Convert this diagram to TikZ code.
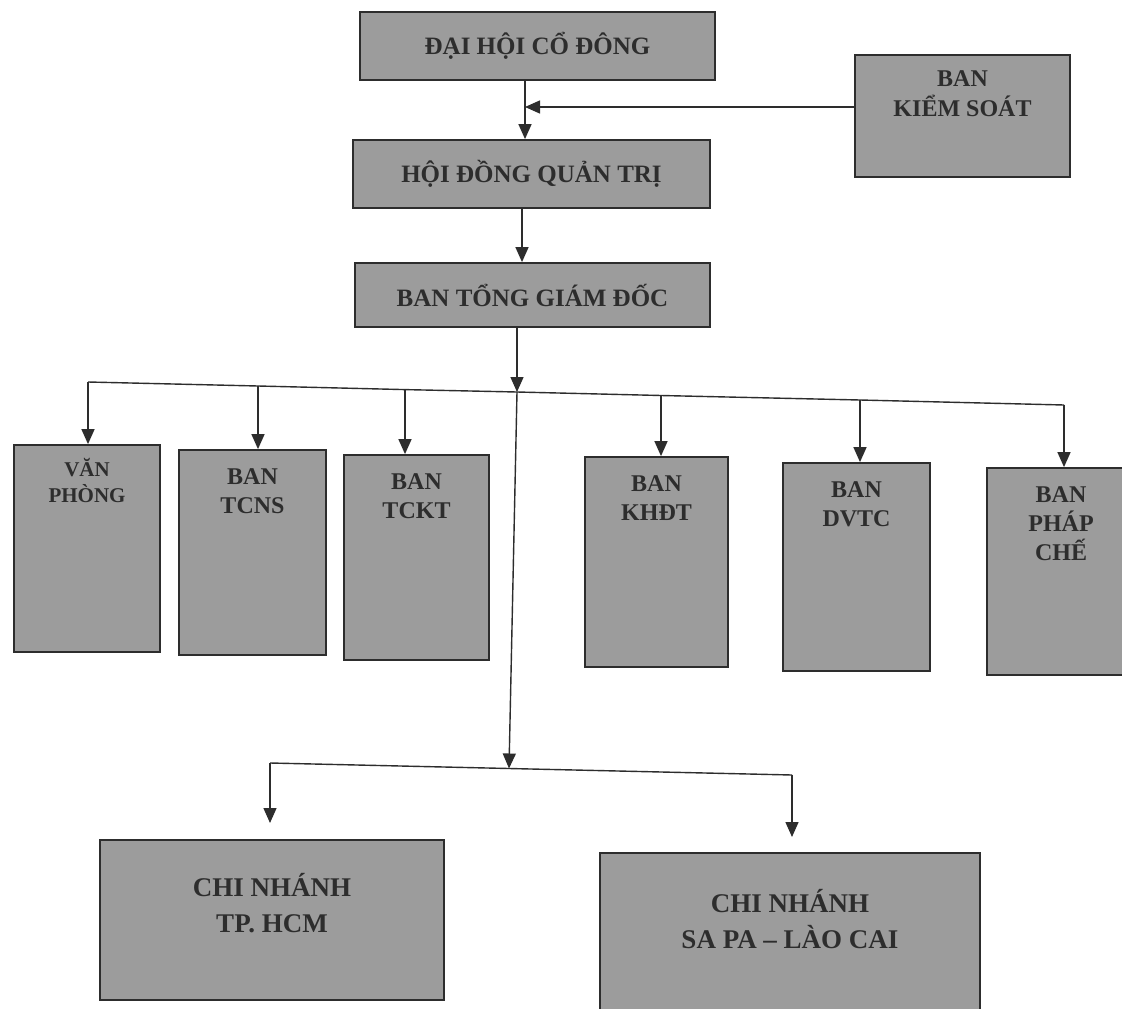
\documentclass[tikz,border=0pt]{standalone}
\usepackage{fontspec}
\setmainfont{Liberation Serif}
\usetikzlibrary{arrows.meta}
\definecolor{boxfill}{RGB}{156,156,156}
\definecolor{ink}{RGB}{45,45,45}
\begin{document}
\begin{tikzpicture}[x=1pt,y=-1pt,
  box/.style={draw=ink, line width=1.8pt, fill=boxfill, inner sep=0pt},
  lbl/.style={inner sep=0pt, align=center, text=ink, anchor=north},
  ctr/.style={inner sep=0pt, align=center, text=ink, font=\fontsize{25}{30}\selectfont\bfseries},
  conn/.style={draw=ink, line width=1.4pt},
  arr/.style={conn, -{Triangle[length=15pt,width=13pt]}}]
\useasboundingbox (0,0) rectangle (1122,1009);
\clip (0,0) rectangle (1122,1009);
\fill[white] (0,0) rectangle (1122,1009);

% top chain
\node[box, minimum width=355pt, minimum height=68pt] (dhcd) at (537.5,46) {};
\node[ctr] (dhcdt) at (dhcd.center) {ĐẠI HỘI CỔ ĐÔNG};
\node[box, minimum width=215pt, minimum height=122pt] (bks) at (962.5,116) {};
\node[lbl, font=\fontsize{24}{30}\selectfont\bfseries] (bkst) at ([yshift=-4pt]bks.north) {\rule{0pt}{28pt}BAN\\KIỂM SOÁT};
\node[box, minimum width=357pt, minimum height=68pt] (hdqt) at (531.5,174) {};
\node[ctr] (hdqtt) at (hdqt.center) {HỘI ĐỒNG QUẢN TRỊ};
\node[box, minimum width=355pt, minimum height=64pt] (btgd) at (532.5,295) {};
\node[ctr] (btgdt) at (btgd.center) {BAN TỔNG GIÁM ĐỐC};

% departments
\node[box, minimum width=146pt, minimum height=207pt] (vp) at (87,548.5) {};
\node[box, minimum width=147pt, minimum height=205pt] (tcns) at (252.5,552.5) {};
\node[box, minimum width=145pt, minimum height=205pt] (tckt) at (416.5,557.5) {};
\node[box, minimum width=143pt, minimum height=210pt] (khdt) at (656.5,562) {};
\node[box, minimum width=147pt, minimum height=208pt] (dvtc) at (856.5,567) {};
\node[box, minimum width=148pt, minimum height=207pt] (phc) at (1061,571.5) {};

\node[lbl, font=\fontsize{21}{26}\selectfont\bfseries] (vpt) at ([yshift=-4pt]vp.north) {\rule{0pt}{28pt}VĂN\\PHÒNG};
\node[lbl, font=\fontsize{24}{29}\selectfont\bfseries] (tcnst) at ([yshift=-7pt]tcns.north) {\rule{0pt}{28pt}BAN\\TCNS};
\node[lbl, font=\fontsize{24}{29}\selectfont\bfseries] (tcktt) at ([yshift=-7pt]tckt.north) {\rule{0pt}{28pt}BAN\\TCKT};
\node[lbl, font=\fontsize{24}{29}\selectfont\bfseries] (khdtt) at ([yshift=-7pt]khdt.north) {\rule{0pt}{28pt}BAN\\KHĐT};
\node[lbl, font=\fontsize{24}{29}\selectfont\bfseries] (dvtct) at ([yshift=-7pt]dvtc.north) {\rule{0pt}{28pt}BAN\\DVTC};
\node[lbl, font=\fontsize{24}{29}\selectfont\bfseries] (phct) at ([yshift=-7pt]phc.north) {\rule{0pt}{28pt}BAN\\PHÁP\\CHẾ};

% branches
\node[box, minimum width=344pt, minimum height=160pt] (hcm) at (272,920) {};
\node[box, minimum width=380pt, minimum height=164pt] (sapa) at (790,935) {};
\node[lbl, font=\fontsize{27}{36}\selectfont\bfseries] (hcmt) at ([yshift=-29pt]hcm.north) {\rule{0pt}{28pt}CHI NHÁNH\\TP. HCM};
\node[lbl, font=\fontsize{27}{36}\selectfont\bfseries] (sapat) at ([yshift=-32pt]sapa.north) {\rule{0pt}{28pt}CHI NHÁNH\\SA PA – LÀO CAI};

% junction coordinates
\coordinate (j1) at (525,107);
\coordinate (jm) at (517,392);
\coordinate (jb) at (509,768.5);
\coordinate (jvp) at (88,382);
\coordinate (jtcns) at (258,386);
\coordinate (jtckt) at (405,389.6);
\coordinate (jkhdt) at (661,395.5);
\coordinate (jdvtc) at (860,400);
\coordinate (jphc) at (1064,405);
\coordinate (jl) at (270,763);
\coordinate (jr) at (792,775);
\coordinate (tl) at (270,823);
\coordinate (tr) at (792,837);

% connectors
\draw[arr] (dhcd.south -| j1) -- (hdqt.north -| j1);
\draw[arr] (bks.west |- j1) -- (j1);
\draw[arr] (hdqt.south -| 522,0) -- (btgd.north -| 522,0);
\draw[arr] (btgd.south -| jm) -- (jm);
\draw[arr] (jm) -- (jb);
\draw[conn] (jvp) -- (jtcns) -- (jtckt) -- (jm) -- (jkhdt) -- (jdvtc) -- (jphc);
\draw[arr] (jvp) -- (jvp |- vp.north);
\draw[arr] (jtcns) -- (jtcns |- tcns.north);
\draw[arr] (jtckt) -- (jtckt |- tckt.north);
\draw[arr] (jkhdt) -- (jkhdt |- khdt.north);
\draw[arr] (jdvtc) -- (jdvtc |- dvtc.north);
\draw[arr] (jphc) -- (jphc |- phc.north);
\draw[conn] (jl) -- (jb) -- (jr);
\draw[arr] (jl) -- (tl);
\draw[arr] (jr) -- (tr);
\end{tikzpicture}
\end{document}
